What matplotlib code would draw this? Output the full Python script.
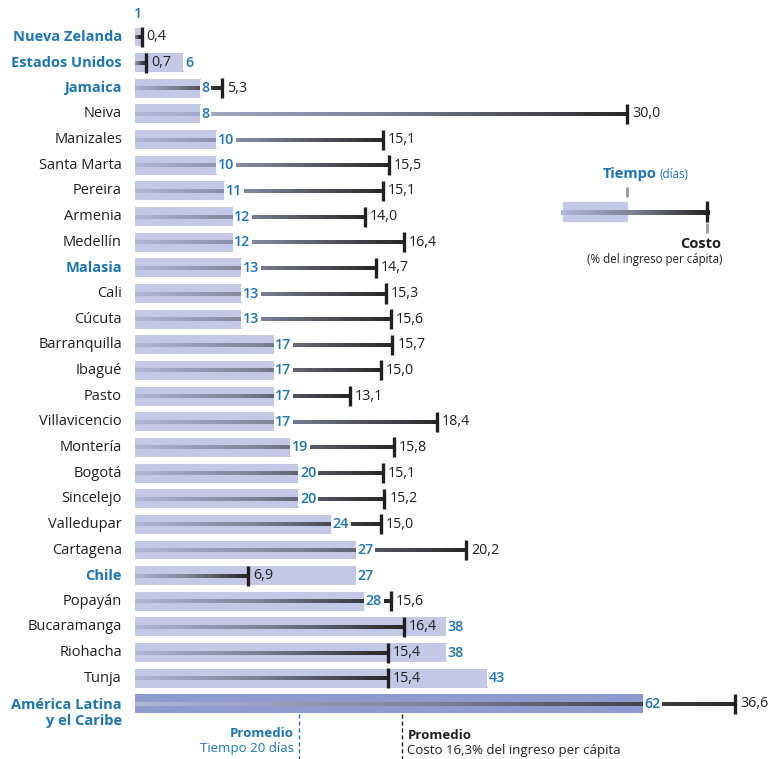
import numpy as np
import matplotlib
matplotlib.use("Agg")
import matplotlib.pyplot as plt
from matplotlib.collections import LineCollection
from matplotlib.colors import LinearSegmentedColormap

plt.rcParams['font.family'] = ['Open Sans', 'DejaVu Sans']

nombres = ["Nueva Zelanda", "Estados Unidos", "Jamaica", "Neiva", "Manizales", "Santa Marta",
           "Pereira", "Armenia", "Medellín", "Malasia", "Cali", "Cúcuta", "Barranquilla",
           "Ibagué", "Pasto", "Villavicencio", "Montería", "Bogotá", "Sincelejo", "Valledupar",
           "Cartagena", "Chile", "Popayán", "Bucaramanga", "Riohacha", "Tunja",
           "América Latina\ny el Caribe"]
tiempo = [1, 6, 8, 8, 10, 10, 11, 12, 12, 13, 13, 13, 17, 17, 17, 17, 19, 20, 20, 24, 27, 27,
          28, 38, 38, 43, 62]
costo = [0.4, 0.7, 5.3, 30.0, 15.1, 15.5, 15.1, 14.0, 16.4, 14.7, 15.3, 15.6, 15.7, 15.0, 13.1,
         18.4, 15.8, 15.1, 15.2, 15.0, 20.2, 6.9, 15.6, 16.4, 15.4, 15.4, 36.6]
internacional = ["Nueva Zelanda", "Estados Unidos", "Jamaica", "Malasia", "Chile",
                 "América Latina\ny el Caribe"]
promedio_tiempo = 20
promedio_costo = 16.3

BLUE = '#1b75bb'
DARK = '#231f20'
BAR = '#c3c8e6'
BAR_LAC = '#8f9bcf'
cmap = LinearSegmentedColormap.from_list('g', ['#b0b7da', '#7c8196', '#2a2829'])

W, H = 773, 759
fig = plt.figure(figsize=(W / 100, H / 100), dpi=100)
x0 = 135
ax = fig.add_axes([x0 / W, 0, 1 - x0 / W, 1])
ax.set_xlim(0, (W - x0) / 8.2)
row0, step = 37, 25.65
ax.set_ylim((H - row0) / step, -row0 / step)
ax.set_axis_off()
axc = ax.twiny()
axc.set_xlim(0, (W - x0) / 16.4)
axc.set_axis_off()


def grad_line(axis, xa, xb, y, lw, z):
    xs = np.linspace(xa, xb, 150)
    segs = [[(xs[k], y), (xs[k + 1], y)] for k in range(len(xs) - 1)]
    lc = LineCollection(segs, colors=cmap(np.linspace(0, 1, len(segs))), linewidths=lw,
                        capstyle='projecting', antialiaseds=False, zorder=z)
    axis.add_collection(lc)


NUM = 10.3
n = len(nombres)
bh = 0.74
for i, (nm, t, c) in enumerate(zip(nombres, tiempo, costo)):
    lac = nm.startswith("América")
    ax.barh(i, t, height=bh, color=BAR_LAC if lac else BAR, zorder=1)
    grad_line(axc, -0.15, c, i, 2.6, 2)
    axc.plot([c, c], [i - 0.39, i + 0.39], color=DARK, lw=2.4, solid_capstyle='butt', zorder=5)
    axc.annotate(f"{c:.1f}".replace('.', ','), xy=(c, i), xytext=(5, 0), textcoords='offset pixels',
                 ha='left', va='center', fontsize=NUM, color=DARK, zorder=6)
    if t < 3:
        axc.annotate(str(t), xy=(t, i), xycoords=ax.transData, xytext=(-5, 23),
                     textcoords='offset pixels', ha='center', va='center', fontsize=NUM,
                     color=BLUE, fontweight='semibold', zorder=4)
    else:
        axc.annotate(str(t), xy=(t, i), xycoords=ax.transData, xytext=(1, 0),
                     textcoords='offset pixels', ha='left', va='center', fontsize=NUM,
                     color=BLUE, fontweight='semibold', zorder=4,
                     bbox=dict(facecolor='white', edgecolor='none', pad=1.2))
    intl = nm in internacional
    yy = i + 0.37 if lac else i
    ax.annotate(nm, xy=(0, yy), xytext=(-13, 0), textcoords='offset pixels', ha='right',
                va='center', fontsize=10.5, color=BLUE if intl else DARK,
                fontweight='bold' if intl else 'normal', linespacing=1.2)

# average lines
ax.plot([promedio_tiempo, promedio_tiempo], [n - 0.62, n + 1.4], color=BLUE, lw=1.0,
        ls=(0, (3, 2)), zorder=3)
axc.plot([promedio_costo, promedio_costo], [n - 0.62, n + 1.4], color=DARK, lw=1.0,
         ls=(0, (3, 2)), zorder=3)
ax.annotate("Promedio", xy=(promedio_tiempo, n + 0.15), xytext=(-5, 0), textcoords='offset pixels',
            ha='right', va='center', fontsize=9.5, color=BLUE, fontweight='bold')
ax.annotate(f"Tiempo {promedio_tiempo} días", xy=(promedio_tiempo, n + 0.75), xytext=(-5, 0),
            textcoords='offset pixels', ha='right', va='center', fontsize=9.5, color=BLUE)
axc.annotate("Promedio", xy=(promedio_costo, n + 0.22), xytext=(5, 0), textcoords='offset pixels',
             ha='left', va='center', fontsize=9.5, color=DARK, fontweight='bold')
axc.annotate(f"Costo {promedio_costo:.1f}% del ingreso per cápita".replace('.', ','),
             xy=(promedio_costo, n + 0.82), xytext=(5, 0), textcoords='offset pixels',
             ha='left', va='center', fontsize=9.5, color=DARK)

# legend illustration (pixel coordinates)
lg = fig.add_axes([0, 0, 1, 1])
lg.set_xlim(0, W)
lg.set_ylim(H, 0)
lg.set_axis_off()
lg.add_patch(plt.Rectangle((563, 202), 64, 19, color=BAR, zorder=1))
grad_line(lg, 563, 707, 211.5, 2.4, 2)
lg.plot([707, 707], [201, 222], color=DARK, lw=2.4, solid_capstyle='butt', zorder=3)
lg.plot([627, 627], [187, 197], color='#9a9a9a', lw=2, solid_capstyle='butt')
lg.plot([707, 707], [223, 233], color='#9a9a9a', lw=2, solid_capstyle='butt')
lg.text(657, 174, "Tiempo", ha='right', va='center', fontsize=10.5, color=BLUE, fontweight='bold')
lg.text(660, 175, "(días)", ha='left', va='center', fontsize=8.3, color=BLUE)
lg.text(721, 244, "Costo", ha='right', va='center', fontsize=10.5, color=DARK, fontweight='bold')
lg.text(722, 260, "(% del ingreso per cápita)", ha='right', va='center', fontsize=8.3, color=DARK)

fig.savefig("out.png", dpi=100, facecolor='white')
